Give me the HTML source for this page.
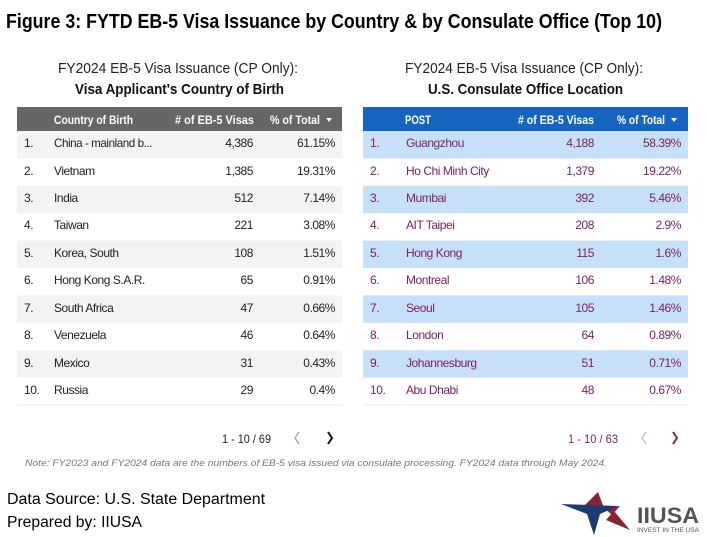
<!DOCTYPE html>
<html><head><meta charset="utf-8"><style>
html,body{margin:0;padding:0;background:#fff;width:707px;height:537px;overflow:hidden}
svg{display:block}
.b{letter-spacing:-0.45px}
</style></head><body>
<svg width="707" height="537" viewBox="0 0 707 537" xmlns="http://www.w3.org/2000/svg" font-family="Liberation Sans, sans-serif">
<text x="6" y="28" font-size="20" font-weight="bold" fill="#000" textLength="656" lengthAdjust="spacingAndGlyphs">Figure 3: FYTD EB-5 Visa Issuance by Country &amp; by Consulate Office (Top 10)</text>
<text x="58" y="73" font-size="15" fill="#222" textLength="240" lengthAdjust="spacingAndGlyphs">FY2024 EB-5 Visa Issuance (CP Only):</text>
<text x="75" y="94" font-size="15" font-weight="bold" fill="#111" textLength="209" lengthAdjust="spacingAndGlyphs">Visa Applicant's Country of Birth</text>
<text x="405" y="73" font-size="15" fill="#222" textLength="238" lengthAdjust="spacingAndGlyphs">FY2024 EB-5 Visa Issuance (CP Only):</text>
<text x="428" y="94" font-size="15" font-weight="bold" fill="#111" textLength="195" lengthAdjust="spacingAndGlyphs">U.S. Consulate Office Location</text>

<!-- Left table -->
<rect x="17" y="107" width="325" height="24" fill="#666"/>
<g font-size="12" font-weight="bold" fill="#fff">
<text x="54" y="124" textLength="79" lengthAdjust="spacingAndGlyphs">Country of Birth</text>
<text x="175" y="124" textLength="79" lengthAdjust="spacingAndGlyphs">#&#160;of EB-5 Visas</text>
<text x="270" y="124" textLength="50" lengthAdjust="spacingAndGlyphs">% of Total</text>
</g>
<path d="M326 118 l6 0 l-3 4 z" fill="#fff"/>
<rect x="17" y="131" width="325" height="27.4" fill="#f3f3f3"/>
<rect x="17" y="185.8" width="325" height="27.4" fill="#f3f3f3"/>
<rect x="17" y="240.6" width="325" height="27.4" fill="#f3f3f3"/>
<rect x="17" y="295.4" width="325" height="27.4" fill="#f3f3f3"/>
<rect x="17" y="350.2" width="325" height="27.4" fill="#f3f3f3"/>
<line x1="17" x2="342" y1="405" y2="405" stroke="#e8e8e8"/>
<g font-size="12" fill="#222" class="b">
<text x="24" y="147">1.</text><text x="54" y="147" textLength="98" lengthAdjust="spacingAndGlyphs">China - mainland b...</text><text x="253" y="147" text-anchor="end">4,386</text><text x="335" y="147" text-anchor="end">61.15%</text>
<text x="24" y="175">2.</text><text x="54" y="175">Vietnam</text><text x="253" y="175" text-anchor="end">1,385</text><text x="335" y="175" text-anchor="end">19.31%</text>
<text x="24" y="202">3.</text><text x="54" y="202">India</text><text x="253" y="202" text-anchor="end">512</text><text x="335" y="202" text-anchor="end">7.14%</text>
<text x="24" y="229">4.</text><text x="54" y="229">Taiwan</text><text x="253" y="229" text-anchor="end">221</text><text x="335" y="229" text-anchor="end">3.08%</text>
<text x="24" y="257">5.</text><text x="54" y="257">Korea, South</text><text x="253" y="257" text-anchor="end">108</text><text x="335" y="257" text-anchor="end">1.51%</text>
<text x="24" y="284">6.</text><text x="54" y="284">Hong Kong S.A.R.</text><text x="253" y="284" text-anchor="end">65</text><text x="335" y="284" text-anchor="end">0.91%</text>
<text x="24" y="312">7.</text><text x="54" y="312">South Africa</text><text x="253" y="312" text-anchor="end">47</text><text x="335" y="312" text-anchor="end">0.66%</text>
<text x="24" y="339">8.</text><text x="54" y="339">Venezuela</text><text x="253" y="339" text-anchor="end">46</text><text x="335" y="339" text-anchor="end">0.64%</text>
<text x="24" y="367">9.</text><text x="54" y="367">Mexico</text><text x="253" y="367" text-anchor="end">31</text><text x="335" y="367" text-anchor="end">0.43%</text>
<text x="24" y="394">10.</text><text x="54" y="394">Russia</text><text x="253" y="394" text-anchor="end">29</text><text x="335" y="394" text-anchor="end">0.4%</text>
</g>

<!-- Right table -->
<rect x="363" y="107" width="325" height="24" fill="#1565c0"/>
<g font-size="12" font-weight="bold" fill="#fff">
<text x="405" y="124" textLength="26" lengthAdjust="spacingAndGlyphs">POST</text>
<text x="518" y="124" textLength="76" lengthAdjust="spacingAndGlyphs">#&#160;of EB-5 Visas</text>
<text x="617" y="124" textLength="48" lengthAdjust="spacingAndGlyphs">% of Total</text>
</g>
<path d="M671 118 l6 0 l-3 4 z" fill="#fff"/>
<rect x="363" y="131" width="325" height="27.4" fill="#c6e0f8"/>
<rect x="363" y="185.8" width="325" height="27.4" fill="#c6e0f8"/>
<rect x="363" y="240.6" width="325" height="27.4" fill="#c6e0f8"/>
<rect x="363" y="295.4" width="325" height="27.4" fill="#c6e0f8"/>
<rect x="363" y="350.2" width="325" height="27.4" fill="#c6e0f8"/>
<line x1="363" x2="688" y1="405" y2="405" stroke="#e8e8e8"/>
<g font-size="12" fill="#7a2160" class="b">
<text x="370" y="147">1.</text><text x="406" y="147">Guangzhou</text><text x="594" y="147" text-anchor="end">4,188</text><text x="681" y="147" text-anchor="end">58.39%</text>
<text x="370" y="175">2.</text><text x="406" y="175">Ho Chi Minh City</text><text x="594" y="175" text-anchor="end">1,379</text><text x="681" y="175" text-anchor="end">19.22%</text>
<text x="370" y="202">3.</text><text x="406" y="202">Mumbai</text><text x="594" y="202" text-anchor="end">392</text><text x="681" y="202" text-anchor="end">5.46%</text>
<text x="370" y="229">4.</text><text x="406" y="229">AIT Taipei</text><text x="594" y="229" text-anchor="end">208</text><text x="681" y="229" text-anchor="end">2.9%</text>
<text x="370" y="257">5.</text><text x="406" y="257">Hong Kong</text><text x="594" y="257" text-anchor="end">115</text><text x="681" y="257" text-anchor="end">1.6%</text>
<text x="370" y="284">6.</text><text x="406" y="284">Montreal</text><text x="594" y="284" text-anchor="end">106</text><text x="681" y="284" text-anchor="end">1.48%</text>
<text x="370" y="312">7.</text><text x="406" y="312">Seoul</text><text x="594" y="312" text-anchor="end">105</text><text x="681" y="312" text-anchor="end">1.46%</text>
<text x="370" y="339">8.</text><text x="406" y="339">London</text><text x="594" y="339" text-anchor="end">64</text><text x="681" y="339" text-anchor="end">0.89%</text>
<text x="370" y="367">9.</text><text x="406" y="367">Johannesburg</text><text x="594" y="367" text-anchor="end">51</text><text x="681" y="367" text-anchor="end">0.71%</text>
<text x="370" y="394">10.</text><text x="406" y="394">Abu Dhabi</text><text x="594" y="394" text-anchor="end">48</text><text x="681" y="394" text-anchor="end">0.67%</text>
</g>

<!-- pagination -->
<text x="222" y="443" font-size="12" fill="#222" textLength="49" lengthAdjust="spacingAndGlyphs">1 - 10 / 69</text>
<path d="M299 432 l-4 6 l4 6" fill="none" stroke="#aaa" stroke-width="1.5"/>
<path d="M328 432 l4 6 l-4 6" fill="none" stroke="#111" stroke-width="2"/>
<text x="568" y="443" font-size="12" fill="#7a2160" textLength="50" lengthAdjust="spacingAndGlyphs">1 - 10 / 63</text>
<path d="M646 432 l-4 6 l4 6" fill="none" stroke="#d9b8cc" stroke-width="1.5"/>
<path d="M673 432 l4 6 l-4 6" fill="none" stroke="#7a2160" stroke-width="2"/>

<text x="25" y="466" font-size="9.5" font-style="italic" fill="#777" textLength="582" lengthAdjust="spacingAndGlyphs">Note: FY2023 and FY2024 data are the numbers of EB-5 visa issued via consulate processing. FY2024 data through May 2024.</text>

<text x="7" y="504" font-size="15.5" fill="#000" textLength="258" lengthAdjust="spacingAndGlyphs">Data Source: U.S. State Department</text>
<text x="7" y="527" font-size="15.5" fill="#000" textLength="135" lengthAdjust="spacingAndGlyphs">Prepared by: IIUSA</text>

<!-- logo -->
<polygon points="598,492 604,508 584,506" fill="#8b2332"/>
<polygon points="604,508 620,506 612,515" fill="#8b2332"/>
<polygon points="561,504 618,506 600,514 594,535 587,514" fill="#1f3a6e"/>
<polygon points="614,511 630,530 606,520" fill="#8b2332"/>
<text x="637" y="523" font-size="22" font-weight="bold" fill="#555" textLength="62" lengthAdjust="spacingAndGlyphs">IIUSA</text>
<text x="637" y="532" font-size="6" fill="#555" textLength="62" lengthAdjust="spacingAndGlyphs">INVEST IN THE USA</text>
</svg>
</body></html>
